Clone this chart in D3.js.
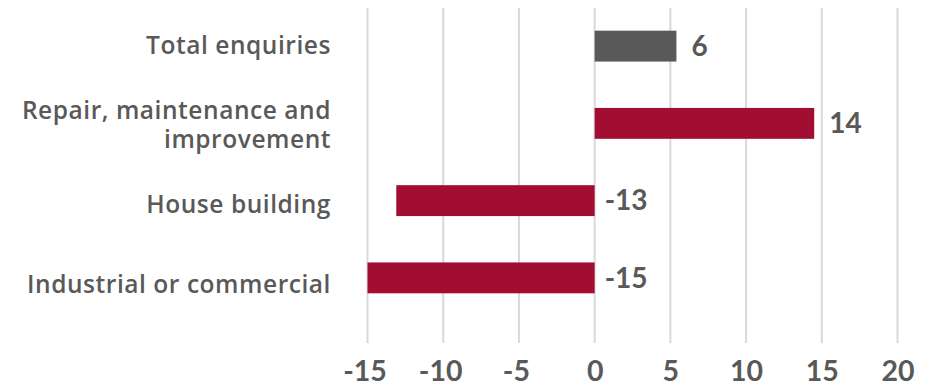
<!DOCTYPE html>
<html>
<head>
<meta charset="utf-8">
<script src="https://cdn.jsdelivr.net/npm/d3@7"></script>
<style>
  body { margin: 0; background: #fff; }
  svg { display: block; font-family: Lato, "Open Sans", sans-serif; }
</style>
</head>
<body>
<svg id="chart" width="938" height="387"></svg>
<script>
// chart data
var categories = ['Total enquiries', 'Repair, maintenance and\nimprovement', 'House building', 'Industrial or commercial'];
var values = [5.4, 14.5, -13.1, -15];
var valueLabels = ['6', '14', '-13', '-15'];
var barColors = ['#595959', '#a20e31', '#a20e31', '#a20e31'];
var xTicks = [-15, -10, -5, 0, 5, 10, 15, 20];

var svg = d3.select('#chart');
var textColor = '#595959';

var x = d3.scaleLinear().domain([-15, 20]).range([367.5, 897.5]);
var y = d3.scaleBand().domain(categories).range([7.5, 316.5]).paddingInner(0.6).paddingOuter(0.3);
// category text sits on a slightly wider spacing than the bars
var yLabel = d3.scalePoint().domain(categories).range([45, 284]);

// gridlines
svg.append('g').selectAll('line')
   .data(xTicks)
   .enter()
   .append('line')
   .attr('x1', d => x(d)).attr('x2', d => x(d))
   .attr('y1', 8).attr('y2', 343)
   .attr('stroke', '#d9d9d9')
   .attr('stroke-width', 2);

// x axis labels
var xAxis = d3.axisBottom(x).tickValues(xTicks).tickSize(0).tickPadding(0).tickFormat(d => String(d));
var gx = svg.append('g').attr('transform', 'translate(0,360)').call(xAxis);
gx.select('.domain').remove();
gx.selectAll('text')
  .attr('dy', '0.72em')
  .attr('dx', d => d < 0 ? -3 : 0)
  .style('font-family', 'Lato, sans-serif')
  .style('font-size', '28.5px')
  .style('font-weight', 'bold')
  .style('fill', textColor);

// bars
var rows = categories.map((c, i) => ({cat: c, value: values[i], label: valueLabels[i], color: barColors[i]}));

svg.append('g').selectAll('rect')
   .data(rows)
   .enter()
   .append('rect')
   .attr('x', d => x(Math.min(0, d.value)))
   .attr('width', d => Math.abs(x(d.value) - x(0)))
   .attr('y', d => y(d.cat))
   .attr('height', y.bandwidth())
   .attr('fill', d => d.color);

// value labels
svg.append('g').selectAll('text')
   .data(rows)
   .enter()
   .append('text')
   .text(d => d.label)
   .attr('x', d => d.value >= 0 ? x(d.value) + 15 : x(0) + 10)
   .attr('y', d => y(d.cat) + y.bandwidth() / 2)
   .attr('dy', '0.35em')
   .style('font-size', '28px')
   .style('font-weight', 'bold')
   .style('fill', textColor);

// category labels
svg.append('g').selectAll('text')
   .data(rows)
   .enter()
   .append('text')
   .attr('text-anchor', 'end')
   .style('font-family', '"Open Sans", sans-serif')
   .style('font-size', '24.5px')
   .style('font-weight', 600)
   .style('letter-spacing', '0.55px')
   .style('fill', textColor)
   .each(function(d){
   	var lines = d.cat.split('\n');
   	var mid = yLabel(d.cat);
   	var lh = 29;
   	var top = mid - (lines.length - 1) * lh / 2;
   	d3.select(this).selectAll('tspan')
   	  .data(lines)
   	  .enter()
   	  .append('tspan')
   	  .attr('x', 331)
   	  .attr('y', (l, j) => top + j * lh)
   	  .attr('dy', '0.357em')
   	  .text(l => l);
   });
</script>
</body>
</html>
